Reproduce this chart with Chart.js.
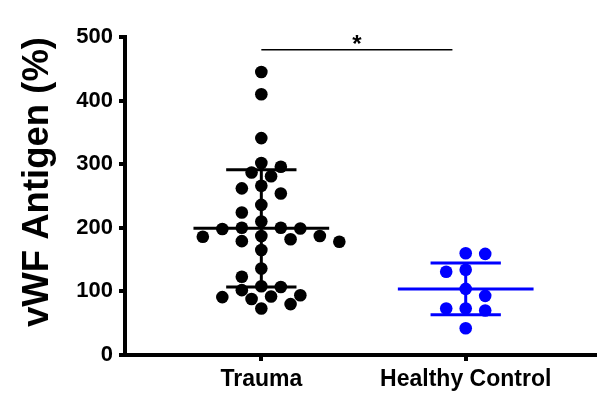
<!DOCTYPE html>
<html>
<head>
<meta charset="utf-8">
<script src="https://cdn.jsdelivr.net/npm/chart.js@4"></script>
<style>
  html, body { margin: 0; padding: 0; background: #fff; overflow: hidden; }
  canvas { display: block; }
</style>
</head>
<body>
<canvas id="myChart" width="602" height="395"></canvas>
<script>
// values
const categories = ["Trauma", "Healthy Control"];
const traumaValues = [445, 410, 341, 302, 296, 287, 281, 266, 262, 254, 236, 224, 210, 200, 200, 199, 198,
                      187, 187, 186, 182, 179, 178, 165, 136, 123, 108, 107, 102, 94, 92, 91, 88, 80, 73];
const healthyValues = [160, 159, 134, 131, 104, 93, 73, 73, 70, 42];
const yTicks = [0, 100, 200, 300, 400, 500];
const sigLabel = "*";
const yTitle = "vWF Antigen (%)";

const colors = ["#000000", "#0000ff"];
const FONT = "'Liberation Sans', Arial, sans-serif";
const dotRadius = 6.3;

function meanSd(vals) {
  const m = vals.reduce((a, b) => a + b, 0) / vals.length;
  const v = vals.reduce((a, b) => a + (b - m) ** 2, 0) / (vals.length - 1);
  return [m, Math.sqrt(v)];
}

// mean line + SD whiskers as little line datasets
function errorBars(vals, cx, color) {
  const [m, sd] = meanSd(vals);
  const seg = pts => ({
    type: "line", data: pts, borderColor: color, borderWidth: 3,
    pointRadius: 0, showLine: true, fill: false, order: 2
  });
  return [
    seg([{ x: cx - 0.332, y: m }, { x: cx + 0.332, y: m }]),
    seg([{ x: cx - 0.172, y: m + sd }, { x: cx + 0.172, y: m + sd }]),
    seg([{ x: cx - 0.172, y: m - sd }, { x: cx + 0.172, y: m - sd }]),
    seg([{ x: cx, y: m - sd }, { x: cx, y: m + sd }]),
  ];
}

const groups = [traumaValues, healthyValues];
const dotSets = groups.map((vals, i) => ({
  type: "scatter",
  data: vals.map(v => ({ x: i + 1, y: v })),
  backgroundColor: colors[i],
  borderColor: colors[i],
  borderWidth: 0,
  pointRadius: dotRadius,
  order: 1
}));

const sigBar = { from: 1, to: 1.935, y: 480 };

const sigPlugin = {
  id: "sig",
  afterDatasetsDraw(chart) {
    const { ctx, scales: { x, y } } = chart;
    const x1 = x.getPixelForValue(sigBar.from), x2 = x.getPixelForValue(sigBar.to);
    const py = y.getPixelForValue(sigBar.y);
    ctx.save();
    ctx.strokeStyle = "#000";
    ctx.lineWidth = 1.5;
    ctx.beginPath();
    ctx.moveTo(x1, py);
    ctx.lineTo(x2, py);
    ctx.stroke();
    ctx.fillStyle = "#000";
    ctx.font = "bold 24px " + FONT;
    ctx.textAlign = "center";
    ctx.textBaseline = "alphabetic";
    ctx.fillText(sigLabel, (x1 + x2) / 2, py + 2);
    ctx.restore();
  }
};

const ctx = document.getElementById("myChart").getContext("2d");
const chart = new Chart(ctx, {
  type: "scatter",
  data: {
    datasets: [
      ...dotSets,
      ...errorBars(traumaValues, 1, colors[0]),
      ...errorBars(healthyValues, 2, colors[1])
    ]
  },
  options: {
    responsive: false,
    animation: false,
    devicePixelRatio: 1,
    layout: { padding: { top: 37, left: 0, right: 0, bottom: 0 } },
    plugins: { legend: { display: false }, tooltip: { enabled: false } },
    scales: {
      x: {
        type: "linear",
        min: 0.333,
        max: 2.636,
        afterBuildTicks: s => { s.ticks = categories.map((c, i) => ({ value: i + 1 })); },
        afterFit: s => { s.height = 40; },
        ticks: {
          callback: v => categories[v - 1],
          color: "#000",
          font: { family: FONT, size: 23, weight: "bold" },
          padding: 5,
          maxRotation: 0
        },
        grid: { drawOnChartArea: false, drawTicks: true, tickLength: 6, color: "#000", lineWidth: 4 },
        border: { color: "#000", width: 4 }
      },
      y: {
        min: 0,
        max: 500,
        afterBuildTicks: s => { s.ticks = yTicks.map(v => ({ value: v })); },
        afterFit: s => { s.width = 125; },
        ticks: {
          color: "#000",
          font: { family: FONT, size: 22, weight: "bold" },
          padding: 6
        },
        grid: { drawOnChartArea: false, drawTicks: true, tickLength: 6, color: "#000", lineWidth: 4 },
        border: { color: "#000", width: 4 },
        title: {
          display: true,
          text: yTitle,
          align: "end",
          color: "#000",
          font: { family: FONT, size: 36.5, weight: "bold" },
          padding: { top: 16, bottom: 0 }
        }
      }
    }
  },
  plugins: [sigPlugin]
});

// beeswarm spread of the dots, computed in pixel space from the real scales
function swarm(dsIndex, center) {
  const xs = chart.scales.x, ys = chart.scales.y;
  const pxPerUnit = xs.getPixelForValue(center + 1) - xs.getPixelForValue(center);
  const step = 9.75, minDist = 12.8;
  const pts = chart.data.datasets[dsIndex].data;
  const order = pts.map((p, i) => i).sort((a, b) => pts[b].y - pts[a].y);
  const placed = [];
  let balance = 0;
  order.forEach(i => {
    const py = ys.getPixelForValue(pts[i].y);
    const free = dx => placed.every(p => Math.hypot(p.dx - dx, p.py - py) >= minDist);
    for (let k = 0; k < 60; k++) {
      const cands = k === 0 ? [0] : (balance > 0 ? [-k, k] : [k, -k]);
      const hit = cands.find(c => free(c * step));
      if (hit !== undefined) {
        placed.push({ dx: hit * step, py });
        balance += Math.sign(hit);
        pts[i].x = center + hit * step / pxPerUnit;
        break;
      }
    }
  });
}
swarm(0, 1);
swarm(1, 2);
chart.update("none");
</script>
</body>
</html>
